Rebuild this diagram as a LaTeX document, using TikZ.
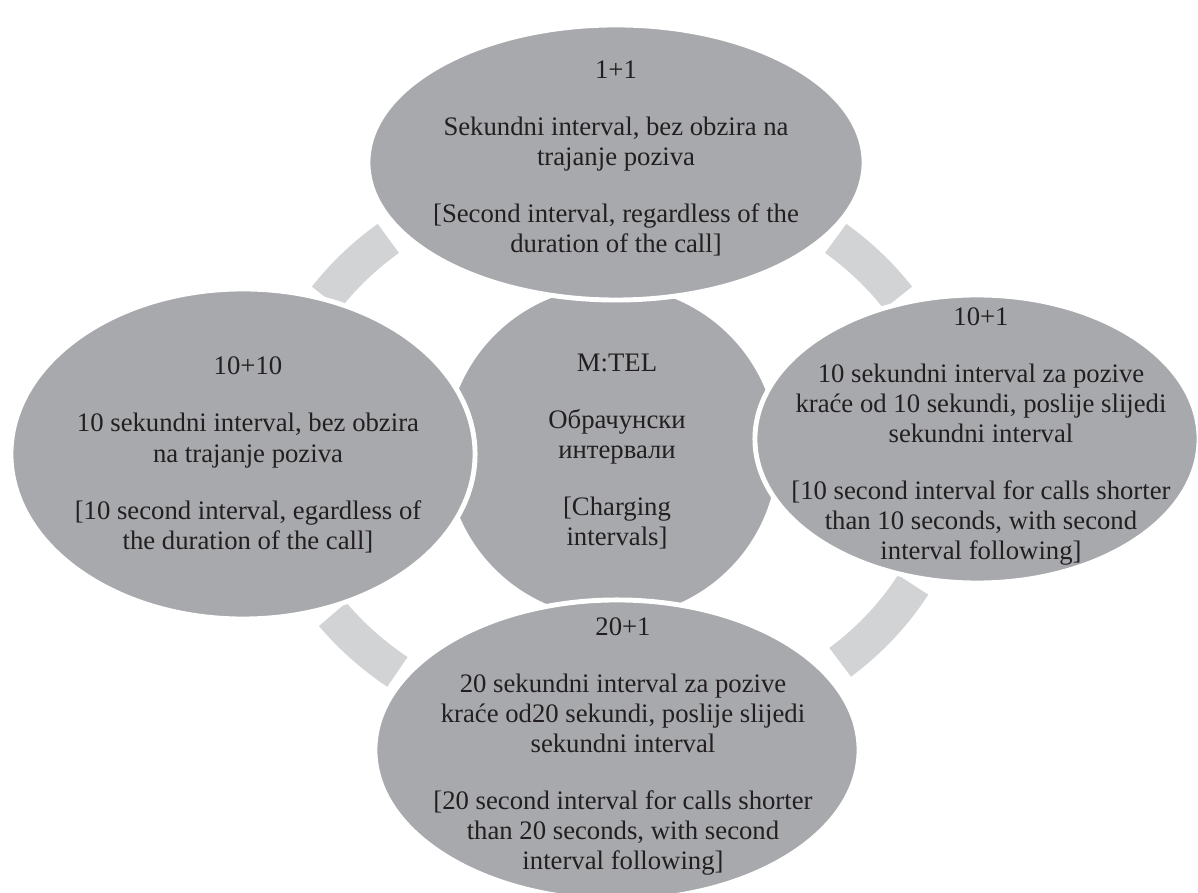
\documentclass[tikz,border=0pt]{standalone}
\usepackage{fontspec}
\setmainfont{Liberation Serif}
\usetikzlibrary{shapes.geometric}
\definecolor{bubgray}{RGB}{167,169,172}
\definecolor{ringgray}{RGB}{209,211,212}
\definecolor{inkgray}{RGB}{35,31,32}
\newcommand{\blankln}{\\[19pt]}
\tikzset{
  bubble/.style={ellipse, fill=bubgray, draw=white, line width=3.5pt, inner sep=0pt},
  bubtext/.style={align=center, text=inkgray, font=\fontsize{19}{21.5}\selectfont},
  ringarc/.style={ringgray, line width=0.9cm}
}

\begin{document}
\begin{tikzpicture}[x=0.025cm, y=0.025cm]
\useasboundingbox (0,0) rectangle (1198,893);
\coordinate (hub) at (612,441);
\foreach \a/\b in {33/49, 131/147, 215/231, 312/332}
  \draw[ringarc] ([shift={(\a:341 and 283)}]hub) arc[start angle=\a, end angle=\b, x radius=341, y radius=283];

\node[bubble, minimum width=8.4cm, minimum height=8.4cm] (mtel) at (hub) {};
\node[bubtext] (mteltxt) at (617,441.5) {M:TEL\blankln Обрачунски\\ интервали\blankln [Charging\\ intervals]};

\node[bubble, minimum width=12.4cm, minimum height=6.875cm] (sec) at (616,730.5) {};
\node[bubtext] (sectxt) at (616,734.5) {1+1\blankln
  Sekundni interval, bez obzira na\\ trajanje poziva\blankln
  [Second interval, regardless of the\\ duration of the call]};

\node[bubble, minimum width=11.6cm, minimum height=8.25cm] (ten) at (243,439) {};
\node[bubtext] (tentxt) at (248,438) {10+10\blankln
  10 sekundni interval, bez obzira\\ na trajanje poziva\blankln
  [10 second interval, egardless of\\ the duration of the call]};

\node[bubble, minimum width=11.1cm, minimum height=7.2cm] (tenone) at (977,454) {};
\node[bubtext] (tenonetxt) at (981,456.5) {10+1\blankln
  10 sekundni interval za pozive\\ kraće od 10 sekundi, poslije slijedi\\ sekundni interval\blankln
  [10 second interval for calls shorter\\ than 10 seconds, with second\\ interval following]};

\node[bubble, minimum width=12.1cm, minimum height=7.5cm] (twenty) at (617,143) {};
\node[bubtext] (twentytxt) at (623,146.5) {20+1\blankln
  20 sekundni interval za pozive\\ kraće od20 sekundi, poslije slijedi\\ sekundni interval\blankln
  [20 second interval for calls shorter\\ than 20 seconds, with second\\ interval following]};
\end{tikzpicture}
\end{document}
